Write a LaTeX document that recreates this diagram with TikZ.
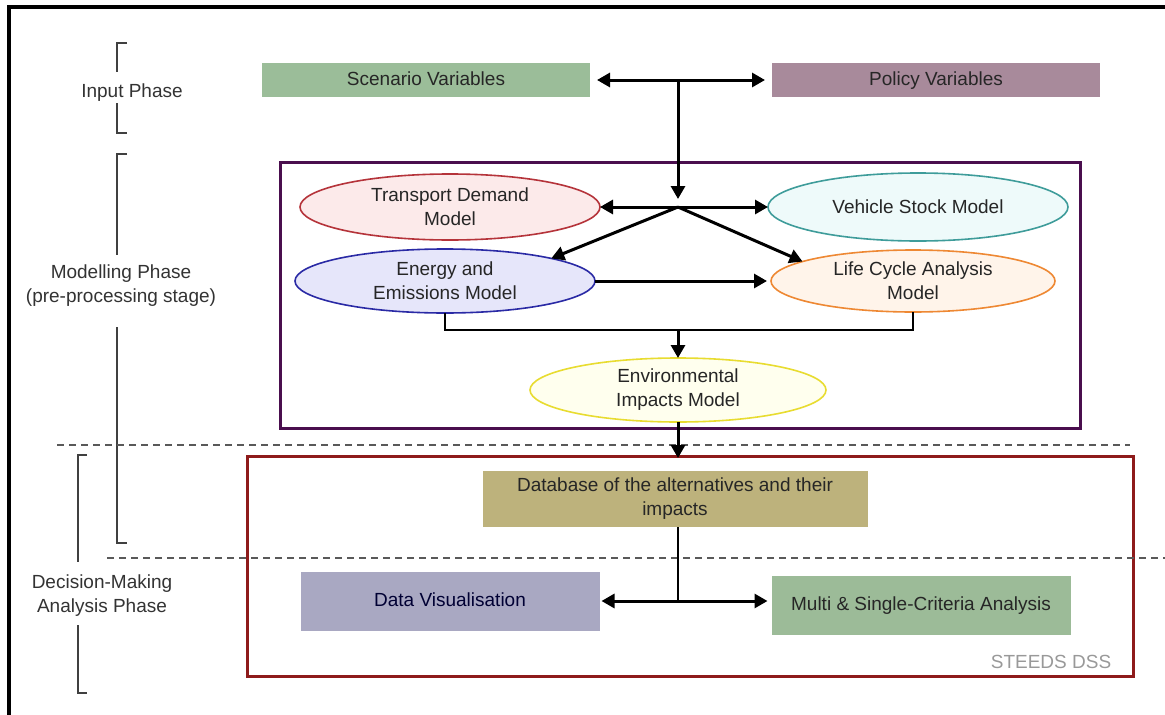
\documentclass[tikz,border=0pt]{standalone}
\usepackage{fontspec}
\setmainfont{Liberation Sans}
\usetikzlibrary{arrows.meta,shapes.geometric}

\definecolor{scengreen}{HTML}{9BBD99}
\definecolor{policymauve}{HTML}{A88A9B}
\definecolor{dbkhaki}{HTML}{BDB27C}
\definecolor{visgrey}{HTML}{A9A8C2}
\definecolor{multigreen}{HTML}{9CBB98}
\definecolor{modpurple}{HTML}{4A0E4E}
\definecolor{dssred}{HTML}{8E1B1B}
\definecolor{tdfill}{HTML}{FCEAEA}
\definecolor{tdline}{HTML}{B5333A}
\definecolor{vsfill}{HTML}{EEFAFA}
\definecolor{vsline}{HTML}{3E9C9A}
\definecolor{eefill}{HTML}{E6E6FA}
\definecolor{eeline}{HTML}{2A2AA5}
\definecolor{lcfill}{HTML}{FFF4EA}
\definecolor{lcline}{HTML}{EE8833}
\definecolor{eifill}{HTML}{FFFFEE}
\definecolor{eiline}{HTML}{E8DC30}

\begin{document}
\begin{tikzpicture}[x=1pt,y=-1pt,
  every node/.style={font=\fontsize{19}{24}\selectfont, inner sep=0pt, outer sep=0pt, align=center},
  bar/.style={rectangle, text=black!85},
  oneline/.style={text height=14pt, text depth=4pt},
  model/.style={ellipse, line width=1.6pt, text=black!85},
  tip/.style={-{Triangle[length=13pt,width=14pt]}},
  flow/.style={line width=3pt, tip},
  both/.style={line width=3pt, {Triangle[length=13pt,width=14pt]}-{Triangle[length=13pt,width=14pt]}},
  link/.style={line width=2.2pt},
  divider/.style={line width=1.6pt, dash pattern=on 7pt off 5pt, draw=black!65},
  brace/.style={line width=1.6pt, draw=black!75},
  phase/.style={text=black!80}]

\useasboundingbox (0,0) rectangle (1165,715);
\fill[white] (0,0) rectangle (1165,715);

% page frame (top and left edges)
\draw[line width=3.5pt] (9,715) -- (9,7) -- (1165,7);

% phase labels and their brackets
\node[phase] (inputlbl) at (132,93) {Input Phase};
\node[phase] (modlbl) at (121,286) {Modelling Phase\\(pre-processing stage)};
\node[phase] (declbl) at (102,596) {Decision-Making\\Analysis Phase};

\draw[brace] (127,43) -- (117,43) -- (117,72);
\draw[brace] (117,103) -- (117,133) -- (127,133);
\draw[brace] (127,154) -- (117,154) -- (117,255);
\draw[brace] (117,327) -- (117,543) -- (127,543);
\draw[brace] (87,455) -- (78,455) -- (78,562);
\draw[brace] (78,625) -- (78,693) -- (87,693);

% input variables
\node[bar, oneline, fill=scengreen, minimum width=328pt, minimum height=34pt] (scenario) at (426,80) {Scenario Variables};
\node[bar, oneline, fill=policymauve, minimum width=328pt, minimum height=34pt] (policy) at (936,80) {Policy Variables};

% modelling stage
\node[draw=modpurple, line width=3pt, minimum width=800pt, minimum height=266pt] (modbox) at (680,295) {};
\node[model, draw=tdline, fill=tdfill, minimum width=300pt, minimum height=66pt] (transport) at (450,207) {Transport Demand\\Model};
\node[model, draw=vsline, fill=vsfill, minimum width=300pt, minimum height=68pt] (vehicle) at (918,207) {Vehicle Stock Model};
\node[model, draw=eeline, fill=eefill, minimum width=300pt, minimum height=64pt] (energy) at (445,281) {Energy and\\Emissions Model};
\node[model, draw=lcline, fill=lcfill, minimum width=284pt, minimum height=62pt] (lifecycle) at (913,281) {Life Cycle Analysis\\Model};
\node[model, draw=eiline, fill=eifill, minimum width=296pt, minimum height=64pt] (envimp) at (678,390) {Environmental\\Impacts Model};

% decision-making stage
\node[draw=dssred, line width=3pt, minimum width=886pt, minimum height=220pt] (dssbox) at (690,566) {};
\node[bar, fill=dbkhaki, minimum width=385pt, minimum height=56pt] (db) at (675,499) {Database of the alternatives and their\\impacts};
\node[bar, oneline, fill=visgrey, minimum width=299pt, minimum height=59pt, text=black!80!blue] (datavis) at (450,601) {Data Visualisation};
\node[bar, oneline, fill=multigreen, minimum width=299pt, minimum height=59pt] (multi) at (921,605) {Multi \& Single-Criteria Analysis};
\node[text=black!40] (steeds) at (1051,662) {STEEDS DSS};

% phase dividers
\draw[divider] (57,445) -- (1130,445);
\draw[divider] (107,558) -- (1165,558);

% junction points
\coordinate (j1) at (678,80);
\coordinate (j2) at (678,207);
\coordinate (j3) at (678,330);
\coordinate (j4) at (678,601);

% connectors
\draw[both, shorten <=7pt, shorten >=7pt] (scenario.east) -- (policy.west);
\draw[flow, shorten >=8pt] (j1) -- (j2);
\draw[both] (transport.east) -- (vehicle.west);
\draw[flow] (j2) -- (energy.12);
\draw[flow] (j2) -- (lifecycle.170);
\draw[flow, shorten >=4pt] (energy.east) -- (energy.east -| lifecycle.west);
\draw[link] (energy.south) |- (j3) -| (lifecycle.south);
\draw[flow] (j3) -- (envimp.north);
\draw[flow, shorten >=-2pt] (envimp.south) -- (envimp.south |- dssbox.north);
\draw[link, line width=2.4pt] (j4 |- db.south) -- (j4);
\draw[flow, shorten >=2pt] (j4) -- (j4 -| datavis.east);
\draw[flow, shorten >=4pt] (j4) -- (j4 -| multi.west);
\end{tikzpicture}
\end{document}
